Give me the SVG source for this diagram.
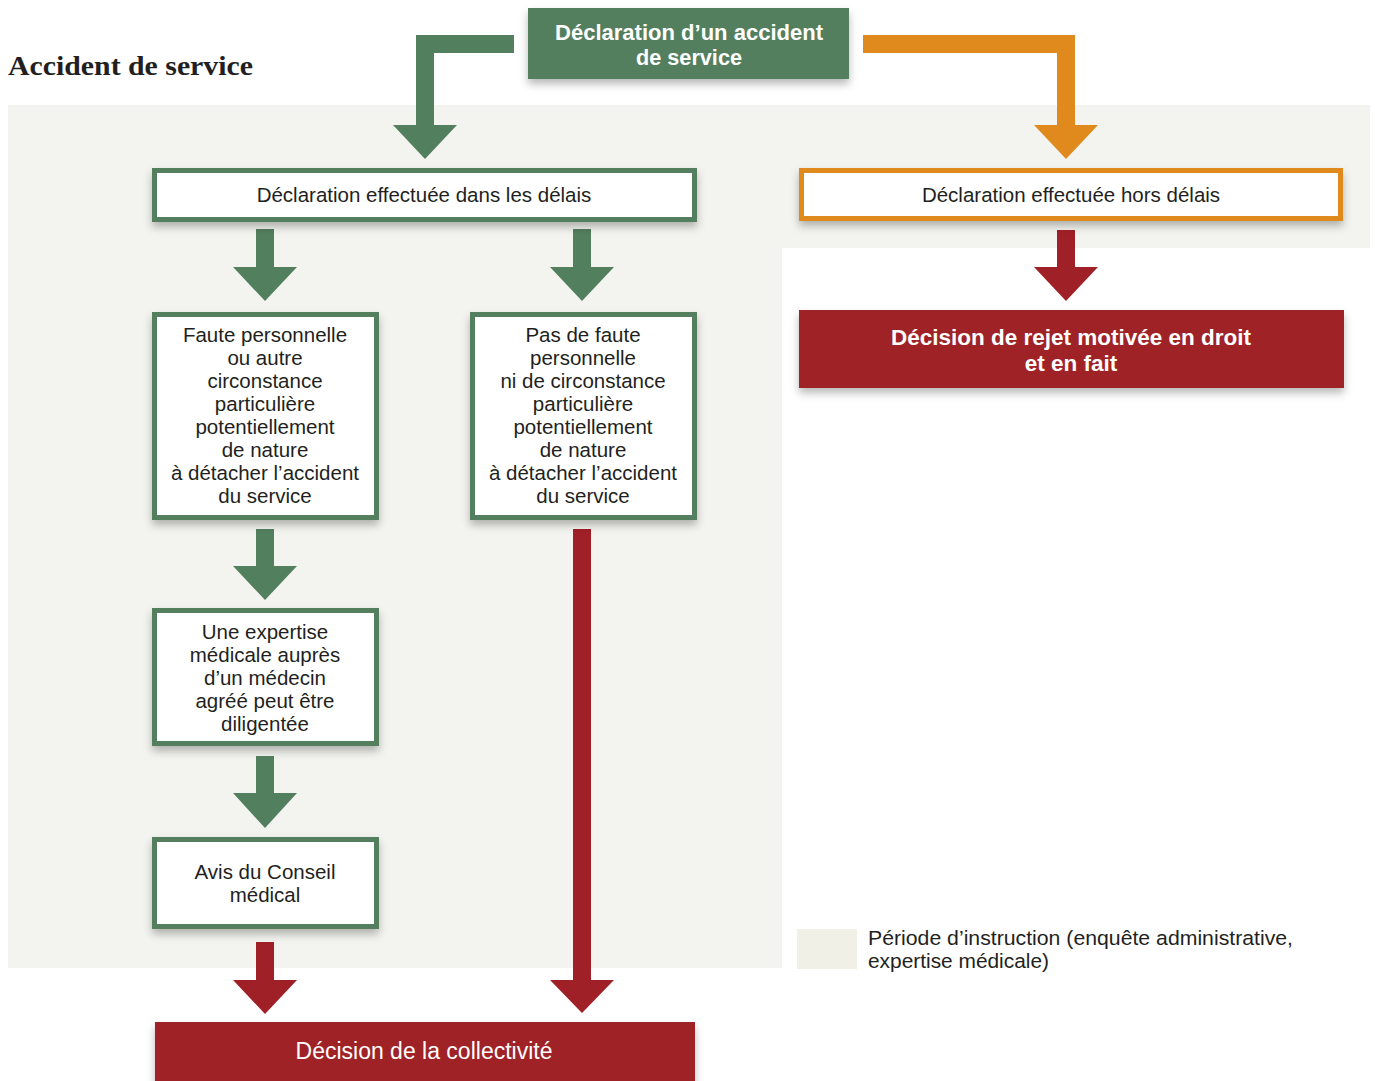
<svg xmlns="http://www.w3.org/2000/svg" width="1375" height="1081" viewBox="0 0 1375 1081">
  <defs>
    <filter id="sh" x="-10%" y="-20%" width="120%" height="160%">
      <feDropShadow dx="0" dy="5" stdDeviation="4" flood-color="#000" flood-opacity="0.28"/>
    </filter>
  </defs>
  <style>
    .bg { fill: #f3f4ef; }
    .gbox { fill: #ffffff; stroke: #527f5e; stroke-width: 5; }
    .obox { fill: #ffffff; stroke: #e0891c; stroke-width: 5; }
    .green { fill: #527f5e; }
    .orange { fill: #e0891c; }
    .red { fill: #9f2026; }
    .t { font-family: "Liberation Sans", Arial, sans-serif; font-size: 20.5px; fill: #231f20; text-anchor: middle; }
    .tw { font-family: "Liberation Sans", Arial, sans-serif; font-size: 23px; fill: #ffffff; text-anchor: middle; }
    .tb { font-family: "Liberation Sans", Arial, sans-serif; font-size: 22.5px; font-weight: bold; fill: #ffffff; text-anchor: middle; }
    .title { font-family: "Liberation Serif", "Times New Roman", serif; font-size: 28px; font-weight: bold; fill: #231f20; }
    .leg { font-family: "Liberation Sans", Arial, sans-serif; font-size: 20.5px; fill: #231f20; }
  </style>

  <rect x="0" y="0" width="1375" height="1081" fill="#ffffff"/>
  <polygon class="bg" points="8,105 1370,105 1370,248 782,248 782,968 8,968"/>

  <text class="title" x="8" y="75" textLength="245" lengthAdjust="spacingAndGlyphs">Accident de service</text>

  <g id="connectors">
    <polygon class="green" points="514,35 514,53 434,53 434,125 457,125 425,159 393,125 416,125 416,35"/>
    <polygon class="orange" points="863,35 1075,35 1075,125 1098,125 1066,159 1034,125 1057,125 1057,53 863,53"/>
    <polygon class="green" points="256,229 274,229 274,267 297,267 265,301 233,267 256,267"/>
    <polygon class="green" points="573,229 591,229 591,267 614,267 582,301 550,267 573,267"/>
    <polygon class="green" points="256,529 274,529 274,566 297,566 265,600 233,566 256,566"/>
    <polygon class="red" points="573,529 591,529 591,980 614,980 582,1013 550,980 573,980"/>
    <polygon class="green" points="256,756 274,756 274,793 297,793 265,828 233,793 256,793"/>
    <polygon class="red" points="256,942 274,942 274,980 297,980 265,1014 233,980 256,980"/>
    <polygon class="red" points="1057,230 1075,230 1075,267 1098,267 1066,301 1034,267 1057,267"/>
  </g>

  <g id="declaration">
    <rect class="green" x="528" y="8" width="321" height="71" filter="url(#sh)"/>
    <text class="tb" x="689" y="40" font-size="24" textLength="268" lengthAdjust="spacingAndGlyphs">Déclaration d’un accident</text>
    <text class="tb" x="689" y="65" font-size="24" textLength="106" lengthAdjust="spacingAndGlyphs">de service</text>
  </g>

  <g id="dans-delais">
    <rect class="gbox" x="154.5" y="170.5" width="540" height="49" filter="url(#sh)"/>
    <text class="t" x="424" y="202">Déclaration effectuée dans les délais</text>
  </g>

  <g id="hors-delais">
    <rect class="obox" x="801.5" y="170.5" width="539" height="48" filter="url(#sh)"/>
    <text class="t" x="1071" y="202">Déclaration effectuée hors délais</text>
  </g>

  <g id="rejet">
    <rect class="red" x="799" y="310" width="545" height="78" filter="url(#sh)"/>
    <text class="tb" x="1071" y="345">Décision de rejet motivée en droit</text>
    <text class="tb" x="1071" y="371">et en fait</text>
  </g>

  <g id="faute">
    <rect class="gbox" x="154.5" y="314.5" width="222" height="203" filter="url(#sh)"/>
    <text class="t" x="265" y="342">Faute personnelle</text>
    <text class="t" x="265" y="365">ou autre</text>
    <text class="t" x="265" y="388">circonstance</text>
    <text class="t" x="265" y="411">particulière</text>
    <text class="t" x="265" y="434">potentiellement</text>
    <text class="t" x="265" y="457">de nature</text>
    <text class="t" x="265" y="480">à détacher l’accident</text>
    <text class="t" x="265" y="503">du service</text>
  </g>

  <g id="pas-de-faute">
    <rect class="gbox" x="472.5" y="314.5" width="222" height="203" filter="url(#sh)"/>
    <text class="t" x="583" y="342">Pas de faute</text>
    <text class="t" x="583" y="365">personnelle</text>
    <text class="t" x="583" y="388">ni de circonstance</text>
    <text class="t" x="583" y="411">particulière</text>
    <text class="t" x="583" y="434">potentiellement</text>
    <text class="t" x="583" y="457">de nature</text>
    <text class="t" x="583" y="480">à détacher l’accident</text>
    <text class="t" x="583" y="503">du service</text>
  </g>

  <g id="expertise">
    <rect class="gbox" x="154.5" y="610.5" width="222" height="133" filter="url(#sh)"/>
    <text class="t" x="265" y="639">Une expertise</text>
    <text class="t" x="265" y="662">médicale auprès</text>
    <text class="t" x="265" y="685">d’un médecin</text>
    <text class="t" x="265" y="708">agréé peut être</text>
    <text class="t" x="265" y="731">diligentée</text>
  </g>

  <g id="avis">
    <rect class="gbox" x="154.5" y="839.5" width="222" height="87" filter="url(#sh)"/>
    <text class="t" x="265" y="879">Avis du Conseil</text>
    <text class="t" x="265" y="902">médical</text>
  </g>

  <g id="decision">
    <rect class="red" x="155" y="1022" width="540" height="62" filter="url(#sh)"/>
    <text class="tw" x="424" y="1059">Décision de la collectivité</text>
  </g>

  <g id="legend">
    <rect x="797" y="929" width="60" height="40" fill="#f0f0e6"/>
    <text class="leg" x="868" y="945" textLength="425" lengthAdjust="spacingAndGlyphs">Période d’instruction (enquête administrative,</text>
    <text class="leg" x="868" y="968" textLength="181" lengthAdjust="spacingAndGlyphs">expertise médicale)</text>
  </g>
</svg>
